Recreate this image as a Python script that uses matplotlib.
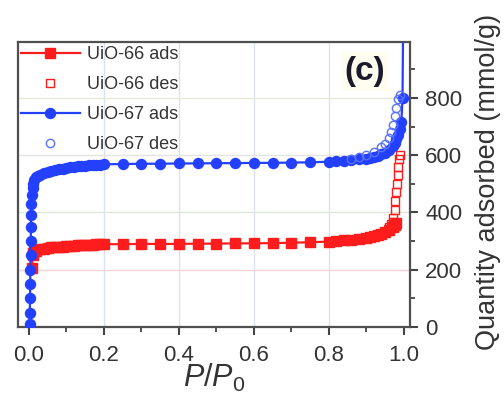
import matplotlib
matplotlib.use("Agg")
import matplotlib.pyplot as plt
from matplotlib.ticker import MultipleLocator

plt.rcParams["font.family"] = ["Liberation Sans", "DejaVu Sans"]
plt.rcParams["mathtext.fontset"] = "custom"
plt.rcParams["mathtext.it"] = "Liberation Sans:italic"
plt.rcParams["mathtext.rm"] = "Liberation Sans"

# UiO-66 isotherm (adsorption / desorption branch)
p66_ads = [0.008, 0.010, 0.012, 0.015, 0.02, 0.03, 0.04, 0.05, 0.06, 0.07, 0.08,
           0.09, 0.10, 0.11, 0.12, 0.13, 0.14, 0.15, 0.16, 0.17, 0.18, 0.19, 0.20,
           0.25, 0.30, 0.35, 0.40, 0.45, 0.50, 0.55, 0.60, 0.65, 0.70, 0.75, 0.80,
           0.82, 0.84, 0.86, 0.88, 0.90, 0.91, 0.92, 0.93, 0.94, 0.95, 0.96, 0.97,
           0.975, 0.98]
q66_ads = [205, 250, 260, 264, 267, 271, 274, 276, 278, 279, 280,
           281, 282, 283, 284, 285, 286, 286, 287, 287, 288, 288, 289,
           289, 290, 290, 290, 291, 291, 292, 292, 293, 294, 296, 298,
           300, 302, 305, 308, 312, 315, 318, 322, 326, 332, 340, 350,
           356, 362]
p66_des = [0.96, 0.965, 0.970, 0.972, 0.975, 0.977, 0.979, 0.981, 0.983, 0.985,
           0.987, 0.989]
q66_des = [350, 358, 368, 382, 410, 440, 470, 500, 530, 560, 585, 600]

# UiO-67 isotherm
p67_ads = [0.002, 0.0025, 0.003, 0.0035, 0.004, 0.0045, 0.005, 0.0055, 0.006,
           0.007, 0.008, 0.010, 0.012, 0.015, 0.02, 0.025, 0.03, 0.04, 0.05,
           0.06, 0.07, 0.08, 0.09, 0.10, 0.11, 0.12, 0.13, 0.14, 0.15, 0.16,
           0.17, 0.18, 0.19, 0.20, 0.25, 0.30, 0.35, 0.40, 0.45, 0.50, 0.55,
           0.60, 0.65, 0.70, 0.75, 0.80, 0.82, 0.84, 0.86, 0.88, 0.90, 0.91,
           0.92, 0.93, 0.94, 0.95, 0.96, 0.97, 0.975, 0.98, 0.985, 0.99, 0.993,
           0.996, 0.998]
q67_ads = [10, 50, 100, 150, 200, 250, 300, 350, 390,
           430, 460, 485, 500, 512, 522, 528, 532, 537, 540,
           544, 547, 550, 553, 555, 557, 559, 561, 562, 563, 564,
           565, 566, 567, 568, 569, 570, 570, 571, 571, 572, 572,
           573, 573, 574, 575, 577, 578, 580, 582, 585, 588, 591,
           594, 598, 603, 609, 618, 632, 642, 655, 670, 690, 715,
           800, 1100]
p67_des = [0.86, 0.88, 0.90, 0.92, 0.94, 0.95, 0.96, 0.965, 0.97, 0.975, 0.98,
           0.985, 0.99]
q67_des = [585, 592, 600, 612, 628, 640, 660, 680, 705, 735, 765, 795, 810]

x_ticks = [0.0, 0.2, 0.4, 0.6, 0.8, 1.0]
y_ticks = [0, 200, 400, 600, 800]
grid_x = [0.2, 0.4, 0.6, 0.8]
grid_y = [200, 400, 600, 800]
grid_y_colors = ["#f4d4d4", "#dde9dd", "#e4e4e4", "#e8e8da"]

red = "#ff1c1c"
blue = "#2340ff"
ink = "#333333"

fig = plt.figure(figsize=(5.04, 3.99), dpi=100)
ax = fig.add_axes([0.0357, 0.1805, 0.7778, 0.7142])

for gx in grid_x:
    ax.axvline(gx, color="#dbe2ef", lw=1.0, zorder=0)
for gy, gc in zip(grid_y, grid_y_colors):
    ax.axhline(gy, color=gc, lw=1.0, zorder=0)

ax.plot(p66_ads, q66_ads, "-s", color=red, lw=1.6, ms=6.6, mec=red,
        label="UiO-66 ads", zorder=3)
ax.plot(p66_des, q66_des, "s", color=red, ms=5.5, mfc="none", mew=1.0,
        label="UiO-66 des", zorder=3)
ax.plot(p67_ads, q67_ads, "-o", color=blue, lw=1.6, ms=7.2, mec=blue,
        label="UiO-67 ads", zorder=4)
ax.plot(p67_des, q67_des, "o", color="#5a70ff", ms=6, mfc="none", mew=1.0,
        label="UiO-67 des", zorder=4)

ax.set_xlim(-0.029, 1.016)
ax.set_ylim(0, 995)

ax.set_xticks(x_ticks)
ax.set_xticklabels([f"{t:.1f}" for t in x_ticks])
ax.xaxis.set_minor_locator(MultipleLocator(0.1))
ax.yaxis.tick_right()
ax.set_yticks(y_ticks)
ax.yaxis.set_minor_locator(MultipleLocator(100))

ax.tick_params(axis="both", which="major", direction="out", length=6,
               width=1.5, colors="#444444", labelsize=16, labelcolor=ink, pad=5)
ax.tick_params(axis="x", which="major", pad=7)
ax.tick_params(axis="both", which="minor", direction="out", length=3.5,
               width=1.3, colors="#444444")
ax.tick_params(axis="y", which="both", left=False, right=True)
ax.tick_params(axis="x", which="both", top=False, bottom=True)

for side in ["left", "right", "top", "bottom"]:
    ax.spines[side].set_color("#505050")
    ax.spines[side].set_linewidth(1.6)

ax.set_xlabel(r"$\mathit{P/P}_{\mathrm{0}}$", fontsize=22, color=ink, labelpad=-3)

fig.text(0.968, 1 - 350 / 399, "Quantity adsorbed (mmol/g)", rotation=90,
         ha="center", va="bottom", fontsize=19.5, color=ink)

ax.text(0.885, 0.895, "(c)", transform=ax.transAxes, fontsize=24,
        fontweight="bold", color="#1a1a2a", ha="center", va="center",
        bbox=dict(boxstyle="square,pad=0.12", facecolor="#fdfdf0",
                  edgecolor="none"), zorder=2)

ax.legend(loc="upper left", bbox_to_anchor=(0.0, 0.995), frameon=False,
          fontsize=13, handlelength=3.3, handletextpad=0.35, labelspacing=0.72,
          borderaxespad=0.0, borderpad=0.15, numpoints=1, labelcolor=ink)

fig.savefig("out.png", dpi=100)
